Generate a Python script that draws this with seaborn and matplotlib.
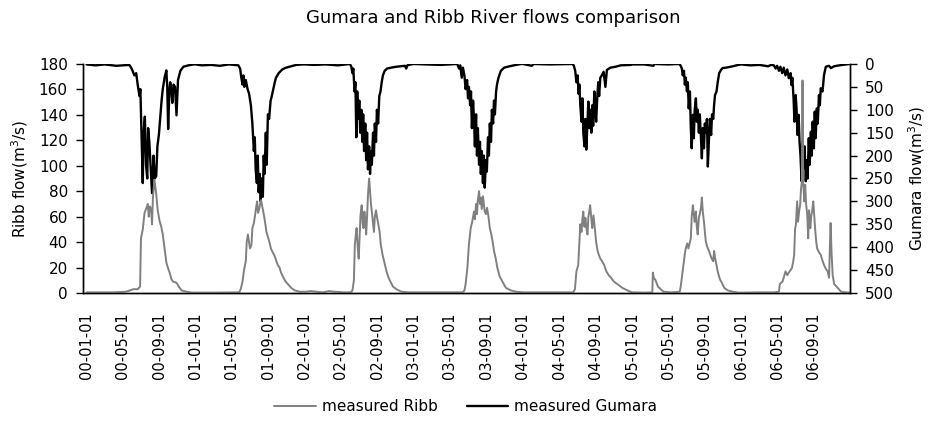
import pandas as pd
import matplotlib
matplotlib.use("Agg")
import matplotlib.pyplot as plt
import matplotlib.dates as mdates
import seaborn as sns

# Measured daily flows, sampled as (day offset from 1 January, flow in m3/s)
ribb_2000 = [(0, 0.5), (40, 0.5), (90, 0.5), (132, 1), (157, 3), (171, 3), (179, 5), (182, 43), (188, 50),
             (194, 63), (199, 66), (205, 70), (208, 60), (212, 68), (216, 66), (219, 54), (222, 75), (227, 89),
             (233, 78), (238, 65), (244, 57), (250, 52), (255, 46), (261, 35), (267, 24), (272, 20), (278, 16),
             (284, 11), (289, 9), (301, 8), (309, 5), (318, 2), (335, 1), (352, 0.3)]
ribb_2001 = [(0, 0.3), (60, 0.3), (120, 0.4), (145, 0.5), (150, 3), (156, 9), (161, 18), (167, 25), (170, 40),
             (174, 46), (178, 40), (181, 35), (186, 38), (189, 51), (194, 55), (198, 61), (202, 68), (205, 72),
             (208, 63), (212, 66), (215, 70), (218, 73), (223, 67), (227, 62), (232, 55), (236, 48), (241, 44),
             (245, 41), (251, 35), (257, 32), (262, 30), (268, 26), (274, 22), (280, 20), (285, 16), (291, 13),
             (300, 9), (308, 7), (319, 4), (331, 2), (348, 1), (364, 1)]
ribb_2002 = [(0, 1), (20, 1.5), (40, 1), (60, 0.5), (80, 1.5), (100, 1), (130, 0.5), (153, 0.5), (159, 2),
             (164, 10), (167, 38), (170, 45), (173, 51), (177, 35), (180, 27), (183, 45), (186, 61), (190, 69),
             (193, 55), (196, 51), (199, 64), (203, 55), (205, 46), (208, 60), (211, 77), (215, 90), (218, 80),
             (221, 70), (224, 64), (228, 55), (231, 48), (234, 60), (238, 65), (241, 60), (245, 55), (250, 48),
             (254, 38), (260, 30), (266, 24), (273, 17), (280, 12), (286, 9), (295, 5), (306, 3), (323, 1),
             (350, 0.5)]
ribb_2003 = [(0, 0.5), (50, 0.5), (100, 0.5), (162, 0.5), (169, 2), (173, 7), (179, 20), (184, 38), (190, 51),
             (195, 56), (201, 64), (204, 58), (208, 70), (211, 62), (214, 73), (218, 80), (221, 70), (224, 75),
             (227, 66), (231, 76), (234, 70), (237, 64), (241, 62), (245, 67), (250, 59), (254, 51), (259, 46),
             (263, 41), (268, 33), (274, 27), (279, 20), (287, 13), (296, 9), (308, 4), (325, 2), (342, 1),
             (364, 0.5)]
ribb_2004 = [(0, 0.5), (60, 0.5), (120, 0.5), (168, 0.5), (174, 3), (179, 17), (185, 22), (189, 40), (192, 54),
             (196, 48), (199, 58), (202, 64), (206, 52), (209, 59), (213, 50), (216, 46), (219, 60), (222, 64),
             (225, 69), (229, 58), (232, 51), (236, 61), (241, 50), (245, 40), (250, 33), (254, 30), (259, 27),
             (265, 25), (272, 22), (279, 17), (287, 14), (295, 12), (304, 9), (316, 7), (333, 4), (350, 2),
             (365, 0.5)]
ribb_2005 = [(0, 0.5), (40, 0.3), (67, 0.5), (69, 16), (72, 12), (78, 10), (86, 5), (95, 3), (105, 1),
             (130, 0.5), (159, 1), (162, 5), (166, 12), (169, 18), (173, 25), (176, 31), (179, 35), (184, 39),
             (188, 35), (193, 40), (196, 43), (199, 60), (203, 69), (206, 62), (209, 56), (213, 64), (216, 52),
             (219, 46), (223, 59), (226, 62), (230, 67), (233, 75), (236, 64), (240, 56), (243, 48), (246, 41),
             (250, 37), (253, 35), (257, 33), (261, 30), (266, 27), (271, 25), (274, 33), (277, 28), (282, 22),
             (286, 17), (293, 11), (300, 8), (308, 4), (320, 2), (337, 1), (354, 0.3)]
ribb_2006 = [(0, 0.3), (60, 0.5), (109, 0.5), (126, 1), (129, 7), (133, 8), (138, 9), (142, 12), (148, 17),
             (154, 14), (159, 16), (165, 18), (170, 20), (174, 25), (177, 30), (180, 50), (183, 54), (187, 72),
             (190, 56), (194, 65), (197, 69), (200, 82), (203, 88), (205, 167), (207, 88), (211, 72), (214, 85),
             (217, 70), (221, 61), (224, 43), (227, 65), (231, 51), (234, 60), (237, 64), (241, 72), (244, 62),
             (248, 48), (251, 40), (254, 35), (260, 32), (266, 30), (271, 26), (277, 22), (283, 19), (289, 17),
             (294, 12), (297, 40), (299, 55), (302, 33), (306, 14), (311, 7), (323, 4), (334, 1), (351, 0.5),
             (363, 0.3)]

gumara_2000 = [(0, 1), (30, 3), (60, 1), (100, 4), (143, 2), (149, 8), (154, 15), (160, 25), (166, 20),
               (171, 45), (177, 70), (180, 55), (185, 180), (188, 260), (191, 150), (195, 115), (199, 220),
               (203, 250), (206, 140), (210, 170), (215, 230), (219, 282), (224, 200), (228, 250), (233, 245),
               (237, 180), (242, 154), (246, 120), (251, 80), (255, 55), (261, 30), (267, 14), (270, 50),
               (273, 142), (277, 60), (280, 40), (284, 60), (287, 85), (291, 45), (296, 50), (301, 112),
               (306, 35), (314, 15), (324, 6), (341, 3), (358, 1)]
gumara_2001 = [(0, 1), (20, 3), (50, 2), (80, 4), (110, 1), (142, 3), (148, 10), (152, 30), (156, 45), (159, 25),
               (162, 50), (167, 35), (173, 55), (178, 65), (184, 90), (189, 130), (194, 190), (197, 160),
               (200, 230), (204, 260), (207, 200), (210, 280), (214, 240), (217, 300), (220, 250), (224, 290),
               (227, 200), (230, 240), (234, 150), (237, 220), (241, 110), (245, 120), (250, 80), (254, 70),
               (259, 55), (264, 40), (268, 30), (277, 20), (289, 12), (302, 8), (319, 5), (336, 2), (359, 1)]
gumara_2002 = [(0, 1), (30, 2), (70, 1), (110, 3), (150, 0), (155, 5), (159, 20), (162, 10), (166, 60),
               (169, 40), (172, 160), (175, 60), (179, 120), (182, 80), (185, 150), (189, 100), (192, 170),
               (195, 110), (198, 190), (202, 130), (205, 210), (208, 150), (211, 230), (215, 180), (218, 240),
               (221, 190), (224, 220), (228, 150), (231, 200), (234, 130), (238, 170), (241, 100), (245, 130),
               (249, 70), (253, 60), (257, 40), (261, 25), (267, 15), (275, 10), (289, 8), (306, 6), (335, 4),
               (339, 10), (343, 3), (355, 1)]
gumara_2003 = [(0, 0), (40, 1), (90, 2), (145, 0), (151, 10), (155, 3), (160, 30), (164, 8), (169, 25),
               (173, 55), (178, 35), (181, 75), (184, 50), (188, 90), (191, 60), (194, 140), (198, 80),
               (201, 120), (204, 180), (208, 110), (211, 200), (214, 140), (218, 220), (221, 170), (224, 240),
               (227, 190), (231, 260), (234, 200), (237, 270), (241, 210), (244, 235), (248, 160), (251, 200),
               (254, 130), (258, 170), (261, 100), (265, 130), (268, 80), (271, 110), (275, 60), (278, 45),
               (283, 30), (291, 15), (302, 8), (320, 5), (342, 2), (359, 0)]
gumara_2004 = [(0, 0), (30, 4), (35, 0), (90, 1), (165, 0), (170, 3), (175, 15), (179, 40), (183, 25),
               (186, 65), (189, 45), (192, 90), (196, 126), (199, 75), (202, 150), (206, 180), (209, 120),
               (212, 187), (216, 130), (219, 82), (222, 140), (225, 100), (229, 150), (232, 90), (235, 135),
               (239, 60), (242, 100), (245, 126), (249, 70), (252, 40), (255, 70), (259, 30), (264, 25),
               (270, 17), (276, 50), (281, 13), (293, 8), (310, 6), (327, 3), (361, 2)]
gumara_2005 = [(0, 1), (40, 1), (71, 4), (74, 0), (120, 1), (158, 0), (162, 4), (166, 10), (169, 25), (173, 15),
               (176, 45), (179, 30), (183, 60), (186, 40), (189, 97), (193, 60), (196, 140), (199, 184),
               (203, 111), (206, 162), (209, 100), (213, 75), (216, 126), (219, 100), (223, 150), (226, 110),
               (230, 162), (233, 206), (236, 140), (240, 184), (243, 130), (246, 150), (250, 120), (253, 224),
               (257, 160), (260, 120), (264, 155), (267, 110), (271, 120), (274, 89), (277, 68), (282, 60),
               (286, 40), (291, 20), (297, 13), (302, 9), (314, 8), (337, 5), (355, 2)]
gumara_2006 = [(0, 1), (30, 3), (60, 2), (90, 5), (100, 2), (109, 3), (115, 10), (120, 4), (126, 15), (131, 6),
               (137, 20), (142, 8), (148, 25), (154, 12), (159, 31), (165, 20), (168, 46), (171, 30), (175, 75),
               (178, 126), (182, 68), (185, 97), (188, 155), (192, 111), (195, 170), (198, 198), (202, 256),
               (205, 169), (209, 227), (212, 180), (216, 256), (219, 210), (222, 250), (226, 162), (229, 220),
               (233, 148), (236, 200), (239, 126), (243, 184), (246, 104), (249, 162), (253, 97), (256, 130),
               (260, 68), (263, 90), (266, 53), (272, 60), (277, 24), (283, 6), (294, 4), (300, 9), (311, 5),
               (328, 3), (351, 1), (363, 0)]

years = [2000, 2001, 2002, 2003, 2004, 2005, 2006]
ribb_by_year = [ribb_2000, ribb_2001, ribb_2002, ribb_2003, ribb_2004, ribb_2005, ribb_2006]
gumara_by_year = [gumara_2000, gumara_2001, gumara_2002, gumara_2003, gumara_2004, gumara_2005, gumara_2006]


def to_frame(series_by_year, name):
    rows = []
    for year, samples in zip(years, series_by_year):
        start = pd.Timestamp(year=year, month=1, day=1)
        for day, flow in samples:
            rows.append((start + pd.Timedelta(days=day), flow))
    return pd.DataFrame(rows, columns=["date", name])


ribb = to_frame(ribb_by_year, "flow")
gumara = to_frame(gumara_by_year, "flow")

sns.set_theme(style="white")
plt.rcParams["font.family"] = ["DejaVu Sans"]
plt.rcParams.update({
    "axes.linewidth": 1.0,
    "text.color": "black",
    "axes.labelcolor": "black",
    "xtick.color": "black",
    "ytick.color": "black",
})

fig = plt.figure(figsize=(9.35, 4.22), dpi=100)
ax = fig.add_axes([0.0888, 0.3057, 0.8203, 0.5427])
ax2 = ax.twinx()

sns.lineplot(data=gumara, x="date", y="flow", ax=ax2, color="black", linewidth=1.7,
             label="measured Gumara", legend=False)
sns.lineplot(data=ribb, x="date", y="flow", ax=ax, color="#808080", linewidth=1.4,
             label="measured Ribb", legend=False)

# Ribb drawn above the Gumara trace
ax.set_zorder(ax2.get_zorder() + 1)
ax.patch.set_visible(False)

ax.set_xlim(pd.Timestamp("1999-12-20"), pd.Timestamp("2006-12-31"))
ax.set_ylim(0, 180)
ax.set_yticks(range(0, 181, 20))
ax2.set_ylim(500, 0)
ax2.set_yticks(range(0, 501, 50))

ax.xaxis.set_major_locator(mdates.MonthLocator(bymonth=[1, 5, 9]))
ax.xaxis.set_major_formatter(mdates.DateFormatter("%y-%m-%d"))
for lbl in ax.get_xticklabels():
    lbl.set_rotation(90)

for a in (ax, ax2):
    a.set_xlabel("")
    a.spines["top"].set_visible(False)
    for side in ("left", "right", "bottom"):
        a.spines[side].set_color("black")
    a.tick_params(direction="out", length=5, width=1, colors="black", labelsize=11, pad=6)

ax.tick_params(axis="x", labelsize=10.5, pad=9)
ax.set_ylabel("Ribb flow(m$^3$/s)", fontsize=11, labelpad=6)
ax2.set_ylabel("Gumara flow(m$^3$/s)", fontsize=11, labelpad=9)

fig.text(0.528, 0.957, "Gumara and Ribb River flows comparison", ha="center", va="center", fontsize=13)

handles = ax.get_lines()[:1] + ax2.get_lines()[:1]
fig.legend(handles, ["measured Ribb", "measured Gumara"], loc="center", bbox_to_anchor=(0.498, 0.036),
           ncol=2, frameon=False, fontsize=11, handlelength=2.7, handletextpad=0.4, columnspacing=1.9)

fig.savefig("out.png", dpi=100)
